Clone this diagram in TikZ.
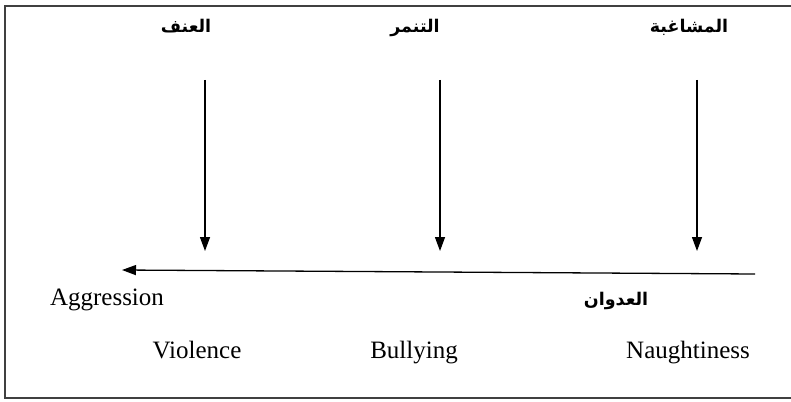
\documentclass[tikz,border=0pt]{standalone}
\usepackage{fontspec}
\setmainfont{Liberation Serif}
\newfontfamily\arabicfont[Script=Arabic]{DejaVu Sans}
\TeXXeTstate=1
\usetikzlibrary{arrows.meta}
\begin{document}
\begin{tikzpicture}[x=1pt,y=-1pt,
  frameline/.style={draw=black!75,line width=2pt},
  arr/.style={draw=black,line width=1.3pt,-{Triangle[length=14pt,width=10pt]}},
  entxt/.style={font=\fontsize{25}{30}\selectfont,inner sep=0pt,anchor=base},
  artxt/.style={font=\arabicfont\bfseries\fontsize{17.5}{22}\selectfont,inner sep=0pt,anchor=base}]
\clip (0,0) rectangle (791,401);
\fill[white] (0,0) rectangle (791,401);
\draw[frameline] (800,6) -- (5,6) -- (5,398) -- (800,398);
% Arabic labels
\node[artxt] (a1) at (186,33) {\beginR العنف\endR};
\node[artxt] (a2) at (415,33) {\beginR التنمر\endR};
\node[artxt] (a3) at (689,33) {\beginR المشاغبة\endR};
% vertical arrows
\coordinate (t1) at (205,80); \coordinate (b1) at (205,251);
\coordinate (t2) at (440,80); \coordinate (b2) at (440,251);
\coordinate (t3) at (697,80); \coordinate (b3) at (697,251);
\draw[arr] (t1) -- (b1);
\draw[arr] (t2) -- (b2);
\draw[arr] (t3) -- (b3);
% horizontal arrow
\coordinate (hs) at (755,274); \coordinate (he) at (122,270);
\draw[arr] (hs) -- (he);
% labels
\node[entxt] (ag) at (107,305) {Aggression};
\node[artxt] (ad) at (616,305) {\beginR العدوان\endR};
\node[entxt] (vi) at (197,358) {Violence};
\node[entxt] (bu) at (414,358) {Bullying};
\node[entxt] (na) at (688,358) {Naughtiness};
\end{tikzpicture}
\end{document}
